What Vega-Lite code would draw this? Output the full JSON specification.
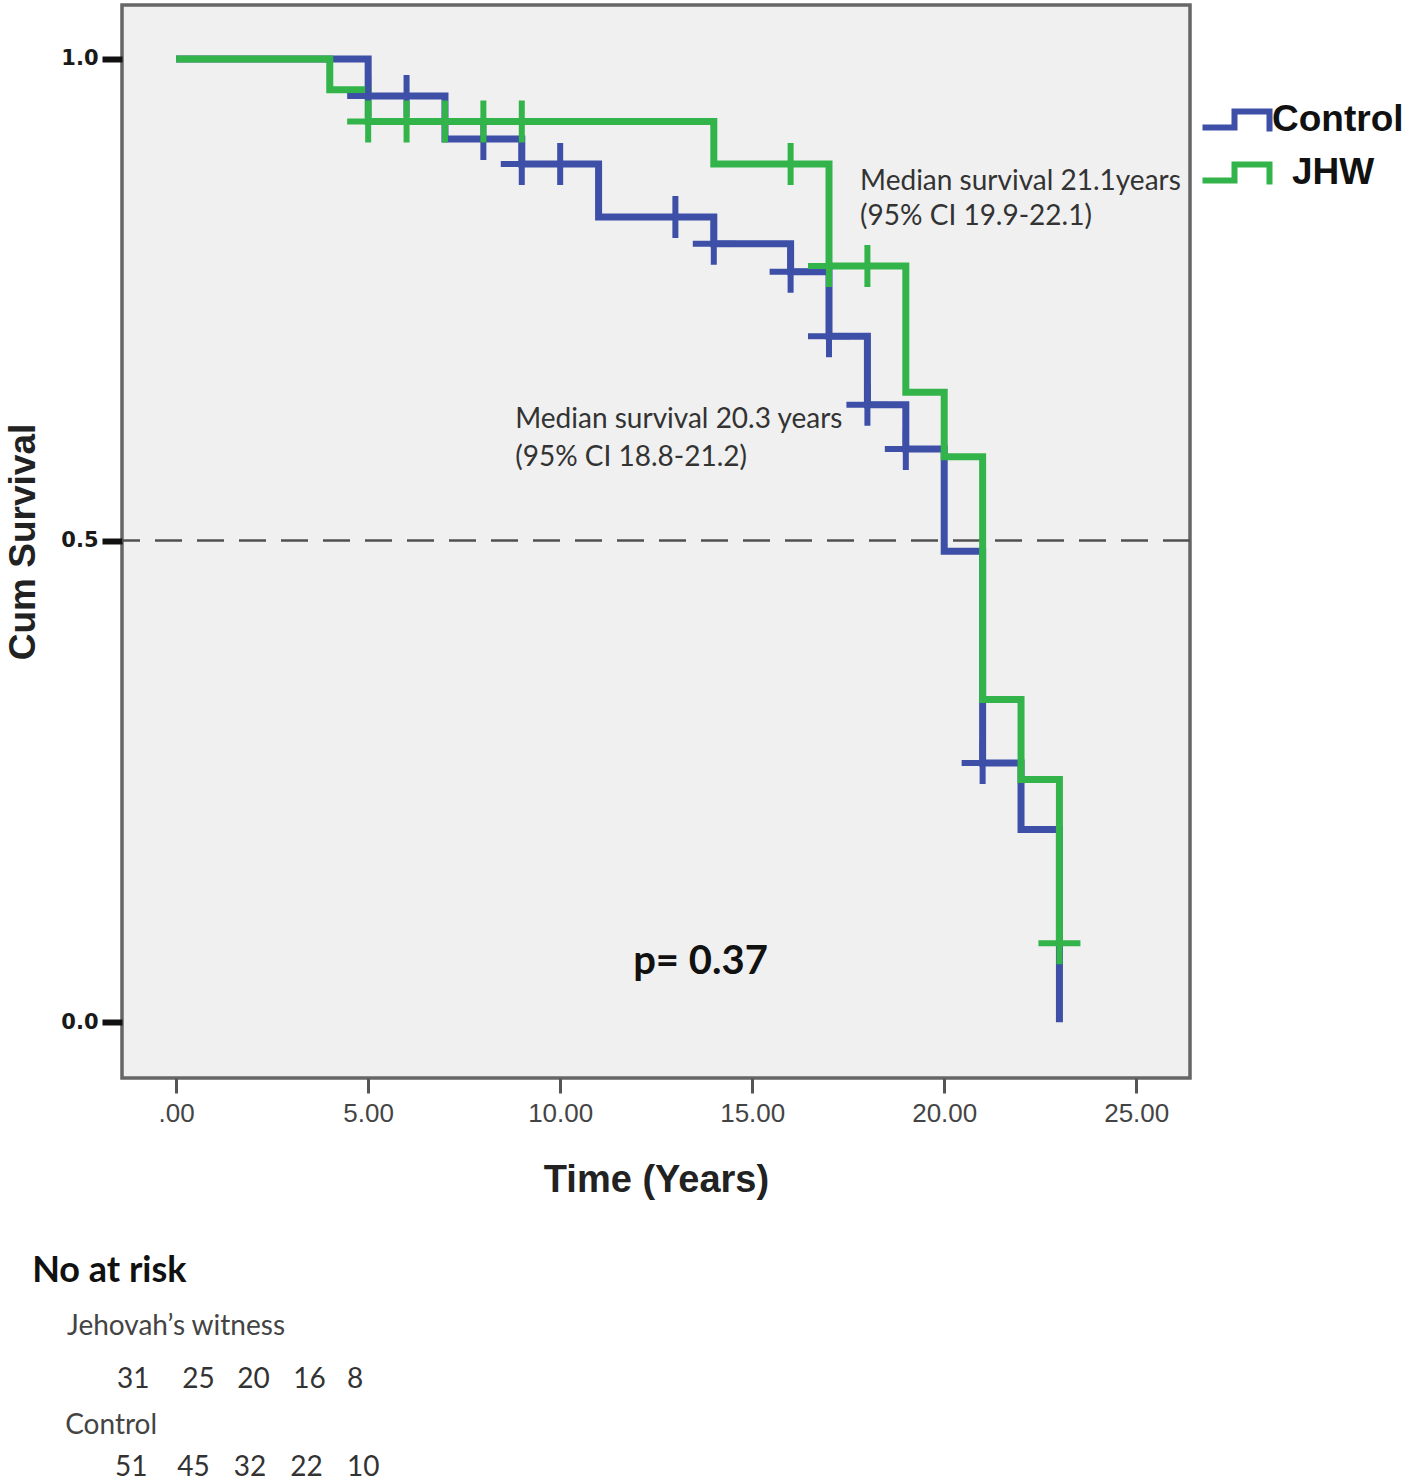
{
  "$schema": "https://vega.github.io/schema/vega-lite/v6.json",
  "width": 1068,
  "height": 1073,
  "autosize": {"type": "none"},
  "padding": {"left": 122, "top": 5, "right": 228, "bottom": 403},
  "background": "white",
  "config": {"view": {"fill": "#f0f0f0", "stroke": "#666666", "strokeWidth": 3.5}},
  "datasets": {
    "steps": [
      {"group": "Control", "time": 0, "surv": 1.0},
      {"group": "Control", "time": 5, "surv": 0.9615},
      {"group": "Control", "time": 7, "surv": 0.917},
      {"group": "Control", "time": 9, "surv": 0.891},
      {"group": "Control", "time": 11, "surv": 0.836},
      {"group": "Control", "time": 14, "surv": 0.808},
      {"group": "Control", "time": 16, "surv": 0.779},
      {"group": "Control", "time": 17, "surv": 0.712},
      {"group": "Control", "time": 18, "surv": 0.641},
      {"group": "Control", "time": 19, "surv": 0.595},
      {"group": "Control", "time": 20, "surv": 0.489},
      {"group": "Control", "time": 21, "surv": 0.269},
      {"group": "Control", "time": 22, "surv": 0.2},
      {"group": "Control", "time": 23, "surv": 0.0},
      {"group": "JHW", "time": 0, "surv": 1.0},
      {"group": "JHW", "time": 4, "surv": 0.968},
      {"group": "JHW", "time": 5, "surv": 0.935},
      {"group": "JHW", "time": 14, "surv": 0.891},
      {"group": "JHW", "time": 17, "surv": 0.785},
      {"group": "JHW", "time": 19, "surv": 0.654},
      {"group": "JHW", "time": 20, "surv": 0.587},
      {"group": "JHW", "time": 21, "surv": 0.335},
      {"group": "JHW", "time": 22, "surv": 0.252},
      {"group": "JHW", "time": 23, "surv": 0.082}
    ],
    "censor": [
      {"group": "Control", "time": 5, "surv": 0.9615},
      {"group": "Control", "time": 6, "surv": 0.9615},
      {"group": "Control", "time": 8, "surv": 0.917},
      {"group": "Control", "time": 9, "surv": 0.891},
      {"group": "Control", "time": 10, "surv": 0.891},
      {"group": "Control", "time": 13, "surv": 0.836},
      {"group": "Control", "time": 14, "surv": 0.808},
      {"group": "Control", "time": 16, "surv": 0.779},
      {"group": "Control", "time": 17, "surv": 0.712},
      {"group": "Control", "time": 18, "surv": 0.641},
      {"group": "Control", "time": 19, "surv": 0.595},
      {"group": "Control", "time": 21, "surv": 0.269},
      {"group": "JHW", "time": 5, "surv": 0.935},
      {"group": "JHW", "time": 6, "surv": 0.935},
      {"group": "JHW", "time": 7, "surv": 0.935},
      {"group": "JHW", "time": 8, "surv": 0.935},
      {"group": "JHW", "time": 9, "surv": 0.935},
      {"group": "JHW", "time": 16, "surv": 0.891},
      {"group": "JHW", "time": 17, "surv": 0.785},
      {"group": "JHW", "time": 18, "surv": 0.785},
      {"group": "JHW", "time": 23, "surv": 0.082}
    ],
    "refline": [
      {"surv": 0.5}
    ],
    "notes": [
      {"text": "Median survival 21.1years", "time": 17.81, "surv": 0.872},
      {"text": "(95% CI 19.9-22.1)", "time": 17.81, "surv": 0.836},
      {"text": "Median survival 20.3 years", "time": 8.83, "surv": 0.625},
      {"text": "(95% CI 18.8-21.2)", "time": 8.83, "surv": 0.586}
    ],
    "pvalue": [
      {"text": "p= 0.37", "time": 11.9, "surv": 0.0624}
    ],
    "riskhead": [
      {"text": "No at risk", "time": -3.75, "surv": -0.258}
    ],
    "risklabels": [
      {"text": "Jehovah\u2019s witness", "time": -2.84, "surv": -0.317},
      {"text": "Control", "time": -2.89, "surv": -0.419}
    ],
    "risknums": [
      {"text": "31", "time": -1.54, "surv": -0.372},
      {"text": "25", "time": 0.16, "surv": -0.372},
      {"text": "20", "time": 1.59, "surv": -0.372},
      {"text": "16", "time": 3.05, "surv": -0.372},
      {"text": "8", "time": 4.45, "surv": -0.372},
      {"text": "51", "time": -1.59, "surv": -0.463},
      {"text": "45", "time": 0.03, "surv": -0.463},
      {"text": "32", "time": 1.5, "surv": -0.463},
      {"text": "22", "time": 2.97, "surv": -0.463},
      {"text": "10", "time": 4.45, "surv": -0.463}
    ]
  },
  "encoding": {
    "y": {
      "field": "surv", "type": "quantitative",
      "scale": {"domain": [-0.058, 1.056], "nice": false, "zero": false},
      "axis": {
        "title": "Cum Survival", "values": [0, 0.5, 1], "format": ".1f",
        "grid": false, "domain": false, "tickSize": 20, "tickWidth": 6, "tickColor": "#111",
        "labelFont": "DejaVu Sans", "labelFontWeight": "bold", "labelFontSize": 21, "labelColor": "#1a1a1a", "labelPadding": 4,
        "titleFont": "Liberation Sans", "titleFontSize": 37, "titleFontWeight": "bold", "titleColor": "#222", "titlePadding": 18
      }
    }
  },
  "layer": [
    {
      "data": {"name": "refline"},
      "mark": {"type": "rule", "color": "#505050", "strokeWidth": 2.5, "strokeDash": [27, 15]},
      "encoding": {}
    },
    {
      "data": {"name": "steps"},
      "mark": {"type": "line", "interpolate": "step-after", "strokeWidth": 7},
      "encoding": {
        "x": {
          "field": "time", "type": "quantitative",
          "scale": {"domain": [-1.41, 26.4], "nice": false, "zero": false},
          "axis": {
            "title": "Time (Years)", "values": [0, 5, 10, 15, 20, 25],
            "labelExpr": "datum.value == 0 ? '.00' : format(datum.value, '.2f')",
            "grid": false, "domain": false, "tickSize": 15, "tickWidth": 3, "tickColor": "#555",
            "labelFont": "Liberation Sans", "labelFontSize": 26, "labelColor": "#444", "labelPadding": 7,
            "titleFont": "Liberation Sans", "titleFontSize": 38, "titleFontWeight": "bold", "titleColor": "#222", "titlePadding": 35
          }
        },
        "color": {
          "field": "group", "type": "nominal",
          "scale": {"domain": ["Control", "JHW"], "range": ["#3d4fa6", "#33b44a"]},
          "legend": {
            "orient": "none", "legendX": 1096, "legendY": 96, "title": null, "padding": 0,
            "symbolType": "M-3.4,0.8H-0.2V-0.8H3.3V1.2", "symbolSize": 400, "symbolStrokeWidth": 6,
            "symbolFillColor": "transparent",
            "labelFont": "Liberation Sans", "labelFontWeight": "bold", "labelFontSize": 37, "labelColor": "#111",
            "labelOffset": 17, "rowPadding": 8,
            "encode": {
              "labels": {
                "update": {"dx": {"signal": "datum.value == 'JHW' ? 20 : 0"}}
              }
            }
          }
        }
      }
    },
    {
      "data": {"name": "censor"},
      "mark": {"type": "point", "shape": "M-1,0H1M0,-1V1", "filled": false, "strokeWidth": 6, "size": 1764, "opacity": 1},
      "encoding": {
        "x": {"field": "time", "type": "quantitative", "scale": {"domain": [-1.41, 26.4], "nice": false, "zero": false}},
        "color": {"field": "group", "type": "nominal", "scale": {"domain": ["Control", "JHW"], "range": ["#3d4fa6", "#33b44a"]}, "legend": null}
      }
    },
    {
      "data": {"name": "notes"},
      "mark": {"type": "text", "align": "left", "baseline": "middle", "font": "Lato", "fontSize": 28, "color": "#333"},
      "encoding": {
        "x": {"field": "time", "type": "quantitative", "scale": {"domain": [-1.41, 26.4], "nice": false, "zero": false}},
        "text": {"field": "text"}
      }
    },
    {
      "data": {"name": "pvalue"},
      "mark": {"type": "text", "align": "left", "baseline": "middle", "font": "Lato", "fontWeight": "bold", "fontSize": 40, "color": "#111"},
      "encoding": {
        "x": {"field": "time", "type": "quantitative", "scale": {"domain": [-1.41, 26.4], "nice": false, "zero": false}},
        "text": {"field": "text"}
      }
    },
    {
      "data": {"name": "riskhead"},
      "mark": {"type": "text", "align": "left", "baseline": "middle", "font": "Lato", "fontWeight": "bold", "fontSize": 36, "color": "#111"},
      "encoding": {
        "x": {"field": "time", "type": "quantitative", "scale": {"domain": [-1.41, 26.4], "nice": false, "zero": false}},
        "text": {"field": "text"}
      }
    },
    {
      "data": {"name": "risklabels"},
      "mark": {"type": "text", "align": "left", "baseline": "middle", "font": "Lato", "fontSize": 28, "color": "#444"},
      "encoding": {
        "x": {"field": "time", "type": "quantitative", "scale": {"domain": [-1.41, 26.4], "nice": false, "zero": false}},
        "text": {"field": "text"}
      }
    },
    {
      "data": {"name": "risknums"},
      "mark": {"type": "text", "align": "left", "baseline": "middle", "font": "Lato", "fontSize": 28, "color": "#333"},
      "encoding": {
        "x": {"field": "time", "type": "quantitative", "scale": {"domain": [-1.41, 26.4], "nice": false, "zero": false}},
        "text": {"field": "text"}
      }
    }
  ]
}
